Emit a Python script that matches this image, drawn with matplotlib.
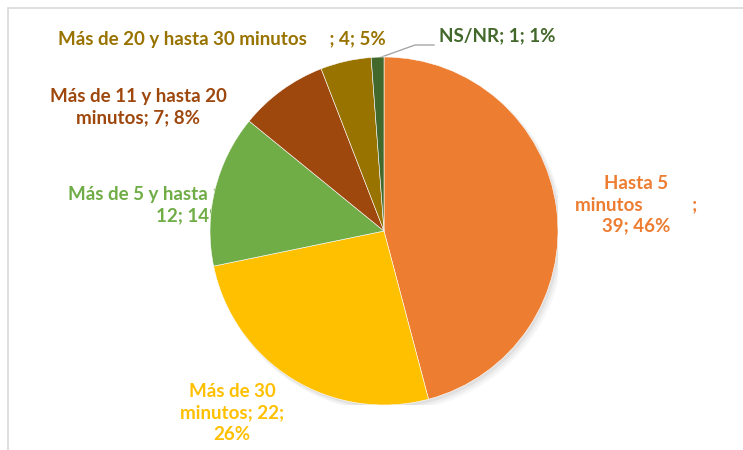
import matplotlib
matplotlib.use("Agg")
import matplotlib.pyplot as plt
from matplotlib.patches import Circle

categories = ["Hasta 5 minutos", "Más de 30 minutos", "Más de 5 y hasta 10 minutos",
              "Más de 11 y hasta 20 minutos", "Más de 20 y hasta 30 minutos", "NS/NR"]
values = [39, 22, 12, 7, 4, 1]
colors = ["#ED7D31", "#FFC000", "#70AD47", "#9E480E", "#997300", "#43682B"]

total = sum(values)
pcts = [round(v * 100 / total) for v in values]

# label layouts (line breaks as in the reference)
templates = [
    "Hasta 5\nminutos           ;\n{v}; {p}%",
    "Más de 30\nminutos; {v};\n{p}%",
    "Más de 5 y hasta 10 minutos;\n{v}; {p}%",
    "Más de 11 y hasta 20\nminutos; {v}; {p}%",
    "Más de 20 y hasta 30 minutos     ; {v}; {p}%",
    "NS/NR; {v}; {p}%",
]
# label centers in pixels (x, y from top)
label_pos = [(636, 205), (232, 413), (190, 205), (138, 107), (222, 40), (497, 36)]

W, H = 743, 450
fig = plt.figure(figsize=(W / 100, H / 100), dpi=100)
fig.patch.set_facecolor("white")

# chart border (left and top visible)
border = plt.Rectangle((8 / W, -0.05), 1.0, (H - 8) / H + 0.05, transform=fig.transFigure,
                       fill=False, edgecolor="#D9D9D9", linewidth=1.2)
fig.add_artist(border)

cx, cy, r = 384, 231, 174
ax = fig.add_axes([(cx - r) / W, (H - cy - r) / H, 2 * r / W, 2 * r / H])
ax.set_xlim(-1, 1)
ax.set_ylim(-1, 1)
ax.set_aspect("equal")
ax.axis("off")

# labels (drawn behind the pie)
for i, (t, (px, py)) in enumerate(zip(templates, label_pos)):
    s = t.format(v=values[i], p=pcts[i])
    fig.text(px / W, 1 - py / H, s, ha="center", va="center", color=colors[i],
             fontsize=13.5, fontweight="bold", family="Lato", linespacing=1.3, zorder=0)

# soft shadow
for k, a in enumerate([0.05, 0.04, 0.03]):
    ax.add_patch(Circle((0.012 + 0.008 * k, -0.015 - 0.008 * k), 1.0 + 0.004 * k,
                        color="black", alpha=a, zorder=1, linewidth=0))

wedges, _ = ax.pie(values, colors=colors, startangle=90, counterclock=False, radius=1.0,
                   wedgeprops=dict(linewidth=0.4, edgecolor="white", zorder=2))
ax.set_xlim(-1, 1)
ax.set_ylim(-1, 1)
ax.set_zorder(1)
ax.patch.set_alpha(0)

# leader line for NS/NR
fig.add_artist(plt.Line2D([376 / W, 415 / W, 434 / W], [1 - 59 / H, 1 - 45 / H, 1 - 45 / H],
                          color="#A6A6A6", linewidth=1.0, transform=fig.transFigure, zorder=0))

fig.savefig("out.png", dpi=100, facecolor="white")
